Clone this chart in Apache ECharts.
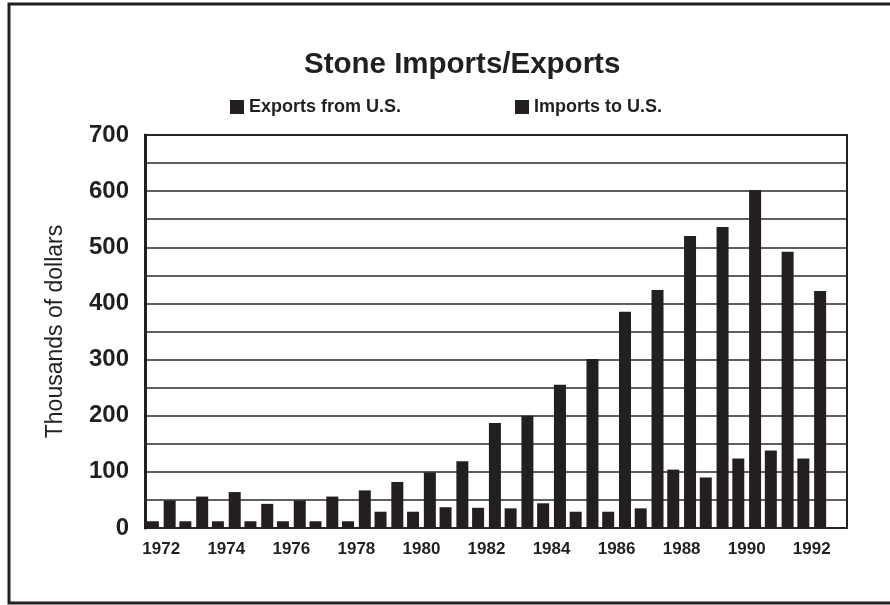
<!DOCTYPE html>
<html>
<head>
<meta charset="utf-8">
<script src="https://cdn.jsdelivr.net/npm/echarts@6/dist/echarts.min.js"></script>
<style>
html,body{margin:0;padding:0;background:#fff;}
#c{width:890px;height:605px;}
</style>
</head>
<body>
<div id="c"></div>
<script>
var years = ['1972','1973','1974','1975','1976','1977','1978','1979','1980','1981','1982','1983','1984','1985','1986','1987','1988','1989','1990','1991','1992'];
var exportsUS = [12, 12, 12, 12, 12, 12, 12, 29, 29, 37, 36, 35, 44, 29, 29, 35, 104, 90, 124, 138, 124];
var importsUS = [49, 56, 64, 43, 49, 56, 67, 82, 99, 119, 187, 200, 255, 301, 385, 424, 520, 536, 602, 492, 422];
var yTicks = [0, 100, 200, 300, 400, 500, 600, 700];

var ink = '#231f20';
var chart = echarts.init(document.getElementById('c'), null, {renderer: 'canvas'});
chart.setOption({
  backgroundColor: '#fff',
  animation: false,
  title: {
    text: 'Stone Imports/Exports',
    left: 299, top: 45,
    textStyle: {fontFamily: 'Liberation Sans, Arial, sans-serif', fontWeight: 'bold', fontSize: 29.5, color: ink}
  },
  legend: {
    left: 225, top: 93,
    itemWidth: 14, itemHeight: 14, itemGap: 114,
    icon: 'rect',
    data: ['Exports from U.S.', 'Imports to U.S.'],
    textStyle: {fontFamily: 'Liberation Sans, Arial, sans-serif', fontWeight: 'bold', fontSize: 18, color: ink}
  },
  graphic: [{
    type: 'rect', silent: true,
    shape: {x: 9, y: 4, width: 890, height: 599},
    style: {fill: null, stroke: ink, lineWidth: 3}
  }],
  grid: [
    {left: 145, right: 43, top: 135, bottom: 77, show: true, borderColor: ink, borderWidth: 2, backgroundColor: 'transparent'},
    {left: 145, width: 683, top: 135, bottom: 77}
  ],
  xAxis: [
    {gridIndex: 0, type: 'value', min: 0, max: 1, show: false},
    {gridIndex: 1, type: 'category', data: years,
      axisLine: {show: false}, axisTick: {show: false},
      axisLabel: {interval: 1, margin: 13, fontFamily: 'Liberation Sans, Arial, sans-serif', fontWeight: 'bold', fontSize: 17, color: ink}
    }
  ],
  yAxis: [
    {gridIndex: 0, type: 'value', min: 0, max: 700, interval: 50,
      name: 'Thousands of dollars', nameLocation: 'middle', nameGap: 78,
      nameTextStyle: {fontFamily: 'Liberation Sans, Arial, sans-serif', fontSize: 23, color: ink},
      axisLine: {show: true, lineStyle: {color: ink, width: 3}},
      axisTick: {show: false},
      axisLabel: {margin: 16, fontFamily: 'Liberation Sans, Arial, sans-serif', fontWeight: 'bold', fontSize: 24, color: ink,
        formatter: function (v) { return yTicks.indexOf(v) >= 0 ? String(v) : ''; }},
      splitLine: {show: true, lineStyle: {color: '#2a2a2a', width: 1.6}}
    },
    {gridIndex: 1, type: 'value', min: 0, max: 700, show: false, splitLine: {show: false}}
  ],
  series: [
    {name: 'Exports from U.S.', type: 'bar', xAxisIndex: 1, yAxisIndex: 1, data: exportsUS,
      barWidth: 12, barGap: '40%', itemStyle: {color: ink}},
    {name: 'Imports to U.S.', type: 'bar', xAxisIndex: 1, yAxisIndex: 1, data: importsUS,
      barWidth: 12, barGap: '40%', itemStyle: {color: ink}}
  ]
});
</script>
</body>
</html>
